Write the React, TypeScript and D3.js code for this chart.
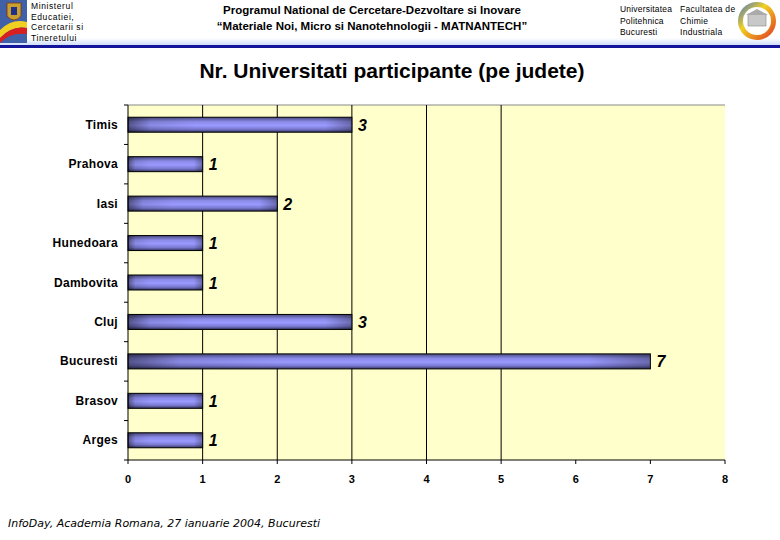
import React from 'react';
import * as d3 from 'd3';

// judete, top to bottom as in the chart
const judete = ['Timis', 'Prahova', 'Iasi', 'Hunedoara', 'Dambovita', 'Cluj', 'Bucuresti', 'Brasov', 'Arges'];
const universitati = [3, 1, 2, 1, 1, 3, 7, 1, 1];
const xTicks = [0, 1, 2, 3, 4, 5, 6, 7, 8];
const gridValues = [1, 2, 3, 4, 5];

const title = 'Nr. Universitati participante (pe judete)';
const headerLeft = ['Ministerul', 'Educatiei,', 'Cercetarii si', 'Tineretului'];
const headerCenter = ['Programul National de Cercetare-Dezvoltare si Inovare', '\u201cMateriale Noi, Micro si Nanotehnologii - MATNANTECH\u201d'];
const headerUni = ['Universitatea', 'Politehnica', 'Bucuresti'];
const headerFac = ['Facultatea de', 'Chimie', 'Industriala'];
const footer = 'InfoDay, Academia Romana, 27 ianuarie 2004, Bucuresti';

const W = 780;
const H = 540;
const plot = { left: 128, right: 725, top: 105, bottom: 460 };
const font = 'Arial, "Liberation Sans", sans-serif';

export default function App() {
  const x = d3.scaleLinear().domain([0, 8]).range([plot.left, plot.right]);
  const y = d3.scaleBand().domain(judete).range([plot.top, plot.bottom])
    .paddingInner(0.62).paddingOuter(0.31);
  const step = y.step();
  const boundaries = d3.range(judete.length + 1).map(i => plot.top + i * step);

  return (
    <svg width={W} height={H} style={{ position: 'absolute', left: 0, top: 0, background: '#fff' }}>
      <defs>
        <linearGradient id="barV" x1="0" y1="0" x2="0" y2="1">
          <stop offset="0" stopColor="#4a4a80" />
          <stop offset="0.3" stopColor="#8a8ae8" />
          <stop offset="0.55" stopColor="#9a9aff" />
          <stop offset="0.8" stopColor="#7878d0" />
          <stop offset="1" stopColor="#34345e" />
        </linearGradient>
        <linearGradient id="barH" x1="0" y1="0" x2="1" y2="0">
          <stop offset="0" stopColor="#000" stopOpacity="0.45" />
          <stop offset="0.1" stopColor="#000" stopOpacity="0.1" />
          <stop offset="0.3" stopColor="#000" stopOpacity="0" />
          <stop offset="0.88" stopColor="#000" stopOpacity="0" />
          <stop offset="1" stopColor="#000" stopOpacity="0.3" />
        </linearGradient>
        <linearGradient id="headGlow" x1="0" y1="0" x2="0" y2="1">
          <stop offset="0" stopColor="#fff" />
          <stop offset="1" stopColor="#c8d8f8" />
        </linearGradient>
        <linearGradient id="ring" x1="0" y1="0" x2="1" y2="1">
          <stop offset="0" stopColor="#3a6fd8" />
          <stop offset="0.4" stopColor="#f0d020" />
          <stop offset="1" stopColor="#e03020" />
        </linearGradient>
      </defs>

      {/* header */}
      <rect x={0} y={38} width={W} height={8} fill="url(#headGlow)" />
      <rect x={0} y={45} width={W} height={3} fill="#14149a" />
      <g>
        <rect x={0} y={0} width={27} height={43} fill="#4060a8" />
        <path d="M0,30 Q12,18 27,22 L27,28 Q12,25 0,38 Z" fill="#f0d020" />
        <path d="M0,38 Q12,25 27,28 L27,34 Q10,32 0,43 Z" fill="#d82020" />
        <path d="M7,3 L21,3 L21,16 Q14,24 7,16 Z" fill="#c8a030" stroke="#803010" strokeWidth={0.8} />
        <rect x={11} y={7} width={6} height={8} fill="#20308a" />
      </g>
      {headerLeft.map((t, i) => (
        <text key={t} x={31} y={9 + i * 10.5} fontFamily={font} fontSize={8.5} letterSpacing={0.6}>{t}</text>
      ))}
      {headerCenter.map((t, i) => (
        <text key={t} x={372} y={14 + i * 16} textAnchor="middle" fontFamily={font} fontWeight="bold" fontSize={11.5}>{t}</text>
      ))}
      {headerUni.map((t, i) => (
        <text key={t} x={620} y={12 + i * 11.5} fontFamily={font} fontSize={8.5} letterSpacing={0.2}>{t}</text>
      ))}
      {headerFac.map((t, i) => (
        <text key={t} x={680} y={12 + i * 11.5} fontFamily={font} fontSize={8.5} letterSpacing={0.3}>{t}</text>
      ))}
      <g>
        <circle cx={757} cy={21} r={19} fill="url(#ring)" />
        <circle cx={757} cy={21} r={14} fill="#fff" />
        <rect x={748} y={14} width={18} height={12} fill="#c8c8c8" stroke="#888" strokeWidth={0.6} />
        <path d="M746,15 L757,9 L768,15 Z" fill="#aaa" />
      </g>

      {/* title */}
      <text x={392} y={78} textAnchor="middle" fontFamily={font} fontWeight="bold" fontSize={21}>{title}</text>

      {/* plot area */}
      <rect x={plot.left} y={plot.top} width={plot.right - plot.left} height={plot.bottom - plot.top} fill="#ffffcc" />
      <line x1={plot.left} x2={plot.right} y1={plot.top} y2={plot.top} stroke="#888" strokeWidth={1} />
      {gridValues.map(v => (
        <line key={v} x1={x(v)} x2={x(v)} y1={plot.top} y2={plot.bottom} stroke="#000" strokeWidth={1} />
      ))}

      {/* bars */}
      {judete.map((d, i) => {
        const by = y(d) as number;
        const bw = x(universitati[i]) - x(0);
        return (
          <g key={d}>
            <rect x={x(0)} y={by} width={bw} height={y.bandwidth()} fill="url(#barV)" />
            <rect x={x(0)} y={by} width={bw} height={y.bandwidth()} fill="url(#barH)" stroke="#000" strokeWidth={1} />
            <text x={x(universitati[i]) + 6} y={by + y.bandwidth() / 2 + 6} fontFamily={font}
              fontWeight="bold" fontStyle="italic" fontSize={16}>{universitati[i]}</text>
            <text x={118} y={by + y.bandwidth() / 2 + 4} textAnchor="end" fontFamily={font}
              fontWeight="bold" fontSize={12} letterSpacing={0.3}>{d}</text>
          </g>
        );
      })}

      {/* axes */}
      <line x1={plot.left} x2={plot.left} y1={plot.top} y2={plot.bottom} stroke="#000" />
      {boundaries.map((b, i) => (
        <line key={i} x1={plot.left - 4} x2={plot.left} y1={b} y2={b} stroke="#000" />
      ))}
      <line x1={plot.left} x2={plot.right} y1={plot.bottom} y2={plot.bottom} stroke="#000" />
      {xTicks.map(v => (
        <g key={v}>
          <line x1={x(v)} x2={x(v)} y1={plot.bottom} y2={plot.bottom + 4} stroke="#000" />
          <text x={x(v)} y={483} textAnchor="middle" fontFamily={font} fontWeight="bold" fontSize={11}>{v}</text>
        </g>
      ))}

      {/* footer */}
      <text x={8} y={527} fontFamily='"DejaVu Sans", sans-serif' fontStyle="italic" fontSize={11}>{footer}</text>
    </svg>
  );
}
